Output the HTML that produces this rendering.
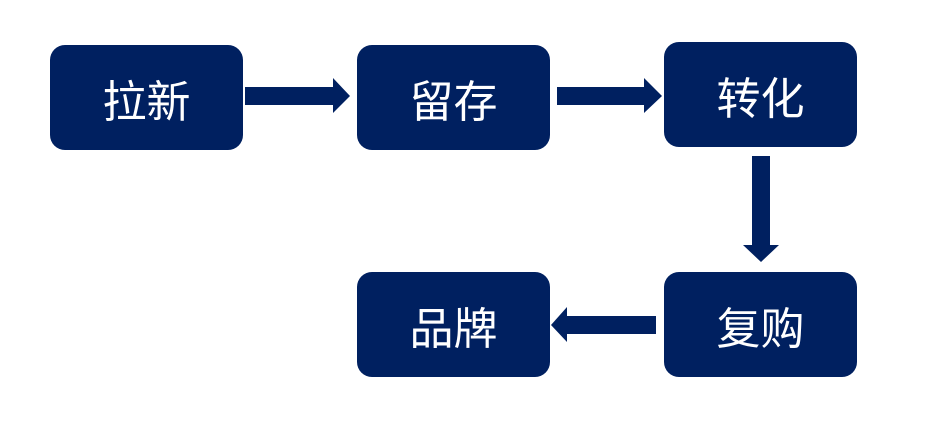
<!DOCTYPE html>
<html><head><meta charset="utf-8"><style>
body{margin:0;background:#fff;width:933px;height:426px;overflow:hidden;position:relative;font-family:"Liberation Sans","Noto Sans CJK SC",sans-serif}
.b{position:absolute;width:193px;height:105px;background:#002060;border-radius:15px;color:#fff;font-size:44px;display:flex;align-items:center;justify-content:center}
svg{position:absolute;left:0;top:0}
</style></head><body>
<div class="b" style="left:50px;top:45px">拉新</div>
<div class="b" style="left:357px;top:45px">留存</div>
<div class="b" style="left:664px;top:42px">转化</div>
<div class="b" style="left:357px;top:272px">品牌</div>
<div class="b" style="left:664px;top:272px">复购</div>
<svg width="933" height="426" fill="#002060">
<polygon points="245,87 333,87 333,78 350,96 333,113 333,105 245,105"/>
<polygon points="557,87 644,87 644,78 662,96 644,113 644,105 557,105"/>
<polygon points="752,156 770,156 770,245 779,245 761,262 743,245 752,245"/>
<polygon points="656,316 567,316 567,307 551,325 567,342 567,334 656,334"/>
</svg>
</body></html>
